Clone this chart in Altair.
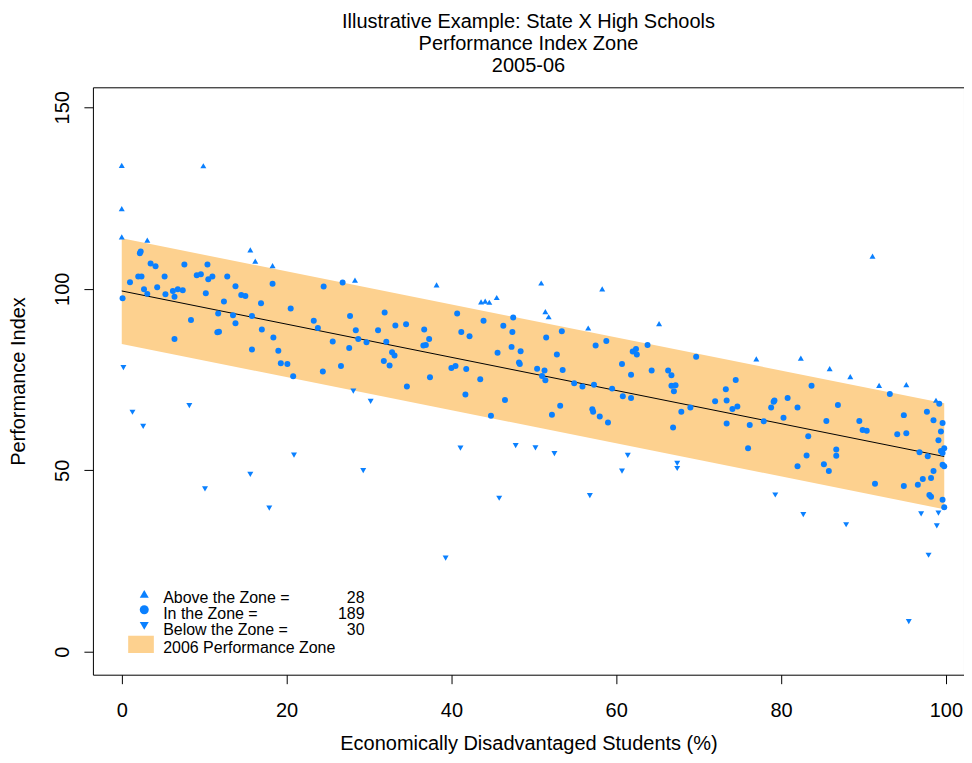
import altair as alt
import pandas as pd

# ---------------- data ----------------
above_x = [0.0, 0.0, 0.0, 3.1, 9.9, 15.6, 16.2, 18.3, 28.3, 38.2, 43.6, 44.1, 44.6, 45.5,
           50.9, 51.4, 51.8, 58.3, 65.2, 56.6, 91.1, 77.0, 82.4, 85.9, 88.4, 91.9, 95.2, 98.8]
above_y = [134.0, 122.1, 114.3, 113.4, 133.9, 110.7, 107.6, 106.4, 102.4, 101.1, 96.4, 96.6, 96.3, 97.6,
           101.6, 93.7, 92.3, 100.0, 90.4, 89.2, 109.0, 80.7, 80.9, 78.0, 75.8, 73.4, 73.6, 69.3]

below_x = [0.2, 1.3, 2.6, 8.2, 20.9, 15.6, 10.1, 17.9, 28.1, 30.2, 29.3, 41.1, 47.8, 45.8, 39.3,
           50.2, 52.5, 61.4, 60.7, 67.4, 67.4, 56.8, 79.3, 82.7, 87.9, 97.0, 99.1, 98.9, 97.9, 95.5]
below_y = [78.3, 66.0, 62.1, 67.8, 54.2, 48.9, 44.9, 39.6, 71.8, 69.0, 49.9, 56.1, 56.8, 42.3, 25.8,
           56.2, 54.6, 54.1, 49.8, 51.9, 50.5, 43.0, 43.2, 37.8, 35.0, 38.0, 38.2, 34.7, 26.6, 8.3]

in_x = [2.2, 2.3, 3.5, 4.1, 7.6, 10.4, 2.0, 2.4, 5.2, 9.1, 9.6, 10.5, 11.0, 12.8, 1.0, 2.7, 3.1, 4.3,
        5.3, 6.2, 6.8, 7.4, 6.4, 10.2, 13.8, 14.5, 15.0, 18.3, 0.1, 12.4, 16.9, 20.5, 24.5, 11.7,
        13.5, 15.8, 8.4, 13.8, 23.3, 23.8,
        6.4, 11.6, 11.8, 17.0, 18.4, 15.8, 19.0, 19.3, 20.1, 20.8, 24.4,
        26.8, 27.7, 31.9, 33.2, 34.5, 28.4, 31.1, 36.7, 40.7, 43.9, 46.3, 47.5,
        25.6, 28.7, 29.7, 27.6, 32.1, 32.8, 33.1, 31.8, 32.5, 26.6, 37.3, 36.6, 36.9, 37.4, 34.6,
        41.2, 42.2, 47.4, 47.3, 48.4, 45.6, 48.2, 48.3, 40.0, 40.5, 41.8, 43.5, 41.7, 46.5, 44.8,
        51.5, 53.4, 52.8, 57.5, 58.8, 62.0, 62.4, 62.5, 63.8, 69.7, 50.4, 51.3, 53.5, 51.0, 51.4,
        54.9, 55.9, 57.3, 59.5, 60.7, 61.8, 60.8, 61.8, 64.3, 66.3, 66.7, 66.7, 67.2, 67.0, 67.9,
        69.0, 66.9, 53.2, 52.2, 57.1, 57.2, 58.0, 59.0, 72.0, 73.3, 73.4, 74.1, 73.4,
        74.5, 74.7, 76.2, 76.0, 77.9, 78.8, 79.1, 79.2, 80.8, 82.0, 80.3, 83.7, 83.3, 83.1, 82.0,
        85.2, 85.8, 85.5, 86.9, 86.7, 86.7, 89.5, 89.9, 90.4, 91.4, 93.2, 94.1, 95.2, 94.9, 94.9,
        96.6, 97.2, 98.2, 98.5, 97.7, 98.5, 99.2, 99.6, 99.4, 99.1, 96.8, 97.8, 99.4, 99.8, 99.6,
        99.6, 99.8, 98.0, 98.2, 99.6, 99.8]
in_y = [109.8, 110.3, 107.0, 106.2, 106.7, 106.7, 103.4, 103.4, 103.4, 103.7, 104.0, 102.6, 103.4, 103.4,
        101.8, 99.9, 98.6, 100.4, 98.5, 99.4, 99.9, 99.6, 97.8, 98.8, 100.7, 98.3, 98.0, 101.4, 97.4,
        96.5, 96.0, 94.6, 100.6, 93.2, 92.7, 92.5, 91.4, 90.5, 91.2, 89.2,
        86.2, 88.0, 88.2, 88.8, 86.6, 83.3, 82.9, 79.5, 79.3, 75.9, 77.2,
        101.7, 92.5, 93.5, 89.9, 90.2, 88.6, 88.6, 88.8, 93.2, 91.2, 89.8, 92.1,
        85.5, 86.2, 85.3, 83.7, 85.4, 82.5, 81.6, 80.1, 78.9, 78.7, 86.2, 84.4, 84.5, 75.6, 73.1,
        88.1, 86.9, 88.1, 84.0, 82.8, 82.4, 79.7, 79.3, 78.2, 78.7, 77.9, 75.1, 70.9, 69.4, 65.0,
        86.6, 88.3, 81.9, 84.4, 85.6, 82.7, 83.4, 81.9, 84.5, 81.3, 78.0, 77.5, 77.6, 76.0, 74.8,
        74.0, 73.1, 73.6, 72.5, 79.3, 76.3, 70.4, 69.9, 77.5, 77.5, 76.2, 73.3, 73.4, 71.8, 66.1,
        67.3, 61.8, 67.8, 65.3, 66.8, 66.1, 64.8, 63.2, 69.0, 72.3, 69.2, 66.9, 62.9,
        74.9, 67.6, 62.5, 56.1, 63.5, 67.3, 68.9, 69.2, 69.9, 67.3, 64.5, 73.3, 59.4, 54.1, 51.1,
        51.7, 49.8, 63.6, 68.0, 55.7, 54.0, 63.6, 61.1, 60.9, 46.3, 71.0, 59.9, 60.2, 65.2, 45.7,
        46.0, 47.6, 47.9, 49.8, 66.1, 63.8, 68.3, 63.0, 60.7, 58.3, 55.0, 53.9, 55.3, 56.1, 54.8,
        51.5, 51.1, 43.2, 42.7, 41.9, 39.8]

zone_x = [0.0, 99.8]
zone_low = [84.8, 39.3]
zone_high = [113.9, 68.5]
zone_mid = [99.4, 53.8]

zones = ["Above", "In", "Below"]
zone_shapes = ["triangle-up", "circle", "triangle-down"]

legend_labels = ["Above the Zone =", "In the Zone =", "Below the Zone =", "2006 Performance Zone"]
legend_counts = ["28", "189", "30", ""]

title_lines = ["Illustrative Example: State X High Schools", "Performance Index Zone", "2005-06"]
x_title = "Economically Disadvantaged Students (%)"
y_title = "Performance Index"
x_ticks = [0, 20, 40, 60, 80, 100]
y_ticks = [0, 50, 100, 150]

BLUE = "#0a80ff"
ORANGE = "#fdd18f"
FONT = "Liberation Sans"

# ---------------- tables ----------------
points = pd.concat([
    pd.DataFrame({"x": above_x, "y": above_y, "zone": "Above"}),
    pd.DataFrame({"x": in_x, "y": in_y, "zone": "In"}),
    pd.DataFrame({"x": below_x, "y": below_y, "zone": "Below"}),
], ignore_index=True)
band = pd.DataFrame({"x": zone_x, "lo": zone_low, "hi": zone_high, "mid": zone_mid})

xs = alt.Scale(domain=[-3.5, 102.2], nice=False, zero=False)
ys = alt.Scale(domain=[-6.3, 155.5], nice=False, zero=False)

x_axis = alt.Axis(values=x_ticks, domain=False, grid=False, tickSize=9, tickColor="black",
                  labelFontSize=20, labelFont=FONT, labelColor="black", labelPadding=17,
                  labelFlush=False, title=x_title, titleFont=FONT, titleFontSize=20,
                  titleFontWeight="normal", titleColor="black", titleY=75,
                  titleBaseline="alphabetic")
y_axis = alt.Axis(values=y_ticks, domain=False, grid=False, tickSize=9, tickColor="black",
                  labelFontSize=20, labelFont=FONT, labelColor="black", labelPadding=15,
                  labelAngle=-90, labelAlign="center", labelBaseline="alphabetic",
                  labelFlush=False, title=y_title, titleFont=FONT, titleFontSize=20,
                  titleFontWeight="normal", titleColor="black", titleX=-68,
                  titleBaseline="alphabetic")

band_layer = alt.Chart(band).mark_area(color=ORANGE, opacity=1).encode(
    x=alt.X("x:Q", scale=xs, axis=x_axis),
    y=alt.Y("lo:Q", scale=ys, axis=y_axis),
    y2="hi:Q",
)
line_layer = alt.Chart(band).mark_line(color="black", strokeWidth=1).encode(
    x=alt.X("x:Q", scale=xs),
    y=alt.Y("mid:Q", scale=ys),
)
point_layer = alt.Chart(points).mark_point(filled=True, opacity=1, size=36, color=BLUE).encode(
    x=alt.X("x:Q", scale=xs),
    y=alt.Y("y:Q", scale=ys),
    shape=alt.Shape("zone:N", scale=alt.Scale(domain=zones, range=zone_shapes), legend=None),
)

# ---------------- legend (inside the plot, bottom left) ----------------
legend_layers = []
sym_y = [507, 523, 539.2]
text_y = [516.3, 532.3, 548.3, 566.3]
for i in range(3):
    d = pd.DataFrame({"zone": [zones[i]]})
    legend_layers.append(
        alt.Chart(d).mark_point(filled=True, opacity=1, size=81, color=BLUE,
                                shape=zone_shapes[i]).encode(x=alt.value(51.4), y=alt.value(sym_y[i]))
    )
legend_layers.append(
    alt.Chart(pd.DataFrame({"zone": ["band"]})).mark_rect(color=ORANGE).encode(
        x=alt.value(35.3), x2=alt.value(61), y=alt.value(549), y2=alt.value(566.3))
)
for i in range(4):
    d = pd.DataFrame({"label": [legend_labels[i]], "count": [legend_counts[i]]})
    legend_layers.append(
        alt.Chart(d).mark_text(align="left", baseline="alphabetic", fontSize=16, font=FONT,
                               color="black").encode(x=alt.value(70.3), y=alt.value(text_y[i]),
                                                     text="label:N")
    )
    if legend_counts[i]:
        legend_layers.append(
            alt.Chart(d).mark_text(align="right", baseline="alphabetic", fontSize=16, font=FONT,
                                   color="black").encode(x=alt.value(272), y=alt.value(text_y[i]),
                                                         text="count:N")
        )

chart = alt.layer(band_layer, line_layer, point_layer, *legend_layers).properties(
    width=872,
    height=588,
    title=alt.TitleParams(text=title_lines, font=FONT, fontSize=20, fontWeight="normal",
                          color="black", anchor="middle", baseline="alphabetic",
                          lineHeight=22, offset=16, dy=21),
    autosize=alt.AutoSizeParams(type="none"),
    padding={"left": 85, "top": 79, "right": 0, "bottom": 80},
).configure(background="white").configure_view(stroke="black", strokeWidth=1)

chart.save("out.html", embed_options={"renderer": "svg", "actions": False})
